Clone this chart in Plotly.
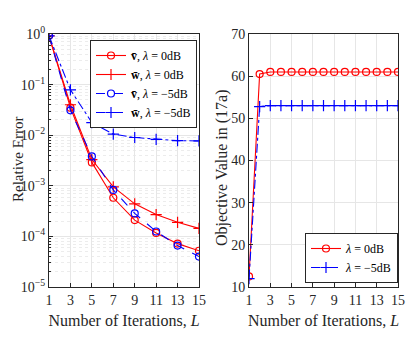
import plotly.graph_objects as go

# ---- data ----
L_odd = [1, 3, 5, 7, 9, 11, 13, 15]
v_0dB = [0.92, 0.035, 0.0029, 0.00058, 0.00021, 0.000117, 0.000072, 0.000052]
w_0dB = [0.92, 0.040, 0.0033, 0.00095, 0.00044, 0.00027, 0.00019, 0.000144]
v_m5dB = [0.92, 0.031, 0.0038, 0.00083, 0.000285, 0.000125, 0.000066, 0.000040]
w_m5dB = [0.92, 0.079, 0.0178, 0.0105, 0.0090, 0.0083, 0.0078, 0.0077]

L_all = list(range(1, 16))
obj_0dB = [12.5, 60.5] + [61.0] * 13
obj_m5dB = [12.0, 52.8] + [53.0] * 13

x_ticks = [1, 3, 5, 7, 9, 11, 13, 15]
log_ticks = [1, 1e-1, 1e-2, 1e-3, 1e-4, 1e-5]
log_ticktext = ["10<sup>0</sup>", "10<sup>−1</sup>", "10<sup>−2</sup>",
                "10<sup>−3</sup>", "10<sup>−4</sup>", "10<sup>−5</sup>"]
obj_ticks = [10, 20, 30, 40, 50, 60, 70]

names_left = ["<b>v̄</b>, <i>λ</i> = 0dB", "<b>w̄</b>, <i>λ</i> = 0dB",
              "<b>v̄</b>, <i>λ</i> = −5dB", "<b>w̄</b>, <i>λ</i> = −5dB"]
names_right = ["<i>λ</i> = 0dB", "<i>λ</i> = −5dB"]
xlabel = "Number of Iterations, <i>L</i>"
ylabel_left = "Relative Error"
ylabel_right = "Objective Value in (17a)"

RED = "#ff0000"
BLUE = "#0000ff"
FONT = "Liberation Serif"

OFF = 8  # page body margin
W, H = 415 - OFF, 338 - OFF
ML, MR, MT, MB = 49 - OFF, 17, 34 - OFF, 51
PW = W - ML - MR
PH = H - MT - MB


def px_x(p):
    # page pixel -> paper (plot-area) fraction
    return (p - OFF - ML) / PW


def px_y(p):
    return 1 - (p - OFF - MT) / PH


fig = go.Figure()

circ = dict(symbol="circle-open", size=7, line=dict(width=1.2))
plus = dict(symbol="cross-thin-open", size=8, line=dict(width=1.2))

fig.add_trace(go.Scatter(x=L_odd, y=v_0dB, name=names_left[0], mode="lines+markers",
                         line=dict(color=RED, width=1.1), marker=dict(color=RED, **circ),
                         xaxis="x", yaxis="y", legend="legend"))
fig.add_trace(go.Scatter(x=L_odd, y=w_0dB, name=names_left[1], mode="lines+markers",
                         line=dict(color=RED, width=1.1), marker=dict(color=RED, **plus),
                         xaxis="x", yaxis="y", legend="legend"))
fig.add_trace(go.Scatter(x=L_odd, y=v_m5dB, name=names_left[2], mode="lines+markers",
                         line=dict(color=BLUE, width=1.1, dash="dash"), marker=dict(color=BLUE, **circ),
                         xaxis="x", yaxis="y", legend="legend"))
fig.add_trace(go.Scatter(x=L_odd, y=w_m5dB, name=names_left[3], mode="lines+markers",
                         line=dict(color=BLUE, width=1.1, dash="dashdot"), marker=dict(color=BLUE, **plus),
                         xaxis="x", yaxis="y", legend="legend"))

fig.add_trace(go.Scatter(x=L_all, y=obj_0dB, name=names_right[0], mode="lines+markers",
                         line=dict(color=RED, width=1.1), marker=dict(color=RED, **circ),
                         xaxis="x2", yaxis="y2", legend="legend2"))
fig.add_trace(go.Scatter(x=L_all, y=obj_m5dB, name=names_right[1], mode="lines+markers",
                         line=dict(color=BLUE, width=1.1, dash="dashdot"), marker=dict(color=BLUE, **plus),
                         xaxis="x2", yaxis="y2", legend="legend2"))

minor_vals = [k * 10 ** e for e in range(-5, 0) for k in range(2, 10)]

axis_common = dict(showline=True, linecolor="#262626", linewidth=1, mirror=True,
                   ticks="inside", ticklen=4, tickcolor="#262626", automargin=False,
                   showgrid=True, gridcolor="#e6e6e6", gridwidth=1, zeroline=False,
                   tickfont=dict(family=FONT, size=14, color="#262626"))

title_font = dict(family=FONT, size=16, color="#262626")

fig.update_layout(
    width=W, height=H,
    margin=dict(l=ML, r=MR, t=MT, b=MB, autoexpand=False),
    paper_bgcolor="white", plot_bgcolor="white",
    font=dict(family=FONT, color="#262626"),
    xaxis=dict(domain=[0, 150 / PW], range=[1, 15], tickvals=x_ticks, anchor="y",
               title=dict(text=xlabel, font=title_font, standoff=8),
               **axis_common),
    yaxis=dict(domain=[0, 1], type="log", range=[-5, 0],
               tickvals=log_ticks, ticktext=log_ticktext, anchor="x",
               minor=dict(tickvals=minor_vals, showgrid=True, gridcolor="#ececec", griddash="dot",
                          ticks="inside", ticklen=2, tickcolor="#262626"),
               **axis_common),
    xaxis2=dict(domain=[200 / PW, 1], range=[1, 15], tickvals=x_ticks, anchor="y2",
                title=dict(text=xlabel, font=title_font, standoff=8),
                **axis_common),
    yaxis2=dict(domain=[0, 1], range=[10, 70], tickvals=obj_ticks, anchor="x2",
                **axis_common),
    legend=dict(x=px_x(197), y=px_y(40), xanchor="right", yanchor="top",
                bgcolor="white", bordercolor="#262626", borderwidth=1,
                font=dict(family=FONT, size=12, color="black"),
                tracegroupgap=0, itemwidth=30),
    legend2=dict(x=px_x(398), y=px_y(283), xanchor="right", yanchor="bottom",
                 bgcolor="white", bordercolor="#262626", borderwidth=1,
                 font=dict(family=FONT, size=12, color="black"),
                 tracegroupgap=0, itemwidth=30),
    showlegend=True,
    annotations=[
        dict(text=ylabel_left, xref="paper", yref="paper", x=px_x(8), y=px_y(160),
             xanchor="left", yanchor="middle", textangle=-90, showarrow=False,
             font=dict(family=FONT, size=15, color="#262626")),
        dict(text=ylabel_right, xref="paper", yref="paper", x=px_x(222), y=px_y(168),
             xanchor="center", yanchor="middle", textangle=-90, showarrow=False,
             font=title_font),
    ],
)

fig.write_html("out.html")
